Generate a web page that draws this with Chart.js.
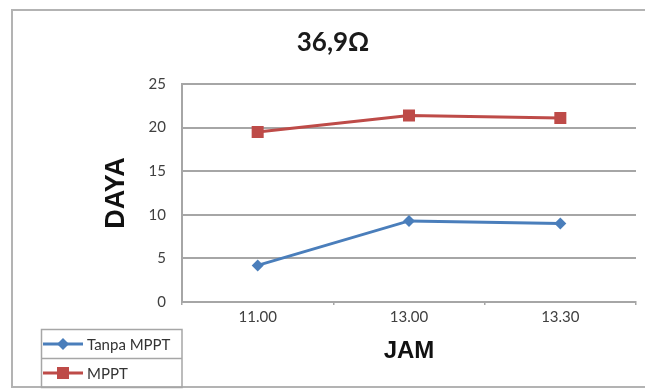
<!DOCTYPE html>
<html>
<head>
<meta charset="utf-8">
<script src="https://cdn.jsdelivr.net/npm/chart.js@4/dist/chart.umd.min.js"></script>
<style>
  html, body { margin: 0; padding: 0; background: #ffffff; overflow: hidden; }
  #wrap { width: 645px; height: 392px; }
</style>
</head>
<body>
<div id="wrap"><canvas id="c" width="645" height="392"></canvas></div>
<script>
// Time of measurement (JAM) and measured power (DAYA)
const jam = ['11.00', '13.00', '13.30'];
const tanpaMppt = [4.2, 9.3, 9.0];
const denganMppt = [19.5, 21.4, 21.1];
const yTicks = [0, 5, 10, 15, 20, 25];

const chartTitle = '36,9\u03A9';
const seriesNames = ['Tanpa MPPT', 'MPPT'];
const seriesColors = ['#4a7ebb', '#be4b48'];
const seriesMarkers = ['rectRot', 'rect'];
const markerRadius = [6, 8.5];

// White page, outer chart frame (open on the right) and the title
const framePlugin = {
  id: 'frame',
  beforeDraw(chart) {
    const ctx = chart.ctx;
    ctx.save();
    ctx.fillStyle = '#ffffff';
    ctx.fillRect(0, 0, chart.width, chart.height);
    ctx.strokeStyle = '#b3b3b3';
    ctx.lineWidth = 2;
    ctx.beginPath();
    ctx.moveTo(12, 10);
    ctx.lineTo(chart.width, 10);
    ctx.moveTo(12, 9);
    ctx.lineTo(12, 388);
    ctx.moveTo(12, 387);
    ctx.lineTo(chart.width, 387);
    ctx.stroke();
    ctx.restore();
  },
  afterDraw(chart) {
    const ctx = chart.ctx;
    ctx.save();
    ctx.fillStyle = '#1a1a1a';
    ctx.font = 'bold 26px Lato, "Open Sans", sans-serif';
    ctx.textAlign = 'center';
    ctx.textBaseline = 'middle';
    ctx.fillText(chartTitle, 333, 43);
    ctx.restore();
  }
};

// Boxed legend in the lower left corner, one row per dataset
const boxLegend = {
  id: 'boxLegend',
  afterDraw(chart) {
    const ctx = chart.ctx;
    const left = 41.5, right = chart.chartArea.left, top = 329.5, rowH = 29;
    const sets = chart.data.datasets;
    ctx.save();
    ctx.strokeStyle = '#a6a6a6';
    ctx.lineWidth = 1.5;
    ctx.beginPath();
    ctx.rect(left, top, right - left, rowH * sets.length);
    for (let i = 1; i < sets.length; i++) {
      ctx.moveTo(left, top + rowH * i);
      ctx.lineTo(right, top + rowH * i);
    }
    ctx.stroke();
    sets.forEach((ds, i) => {
      const cy = top + rowH * i + rowH / 2;
      ctx.strokeStyle = ds.borderColor;
      ctx.lineWidth = 3;
      ctx.beginPath();
      ctx.moveTo(43, cy);
      ctx.lineTo(83, cy);
      ctx.stroke();
      ctx.fillStyle = ds.backgroundColor;
      Chart.helpers.drawPoint(ctx, {
        pointStyle: ds.pointStyle,
        radius: ds.pointRadius,
        borderWidth: 0
      }, 63, cy);
      ctx.fillStyle = '#333333';
      ctx.font = '15px Lato, "Open Sans", sans-serif';
      ctx.textAlign = 'left';
      ctx.textBaseline = 'middle';
      ctx.fillText(ds.label, 87, cy + 1);
    });
    ctx.restore();
  }
};

const datasets = [tanpaMppt, denganMppt].map((vals, i) => ({
  label: seriesNames[i],
  data: vals,
  borderColor: seriesColors[i],
  backgroundColor: seriesColors[i],
  borderWidth: 3,
  pointStyle: seriesMarkers[i],
  pointRadius: markerRadius[i],
  pointHoverRadius: markerRadius[i],
  pointBorderWidth: 0,
  tension: 0
}));

new Chart(document.getElementById('c'), {
  type: 'line',
  data: { labels: jam, datasets },
  options: {
    responsive: false,
    animation: false,
    events: [],
    layout: { padding: { left: 100, top: 84, right: 9, bottom: 26 } },
    plugins: {
      legend: { display: false },
      title: { display: false },
      tooltip: { enabled: false }
    },
    scales: {
      x: {
        offset: true,
        afterFit(scale) { scale.height = 64; },
        grid: {
          offset: true,
          drawOnChartArea: false,
          drawTicks: true,
          tickLength: 3,
          color: '#a6a6a6',
          lineWidth: 1.5
        },
        border: { display: true, color: '#a6a6a6', width: 2 },
        ticks: {
          padding: 3,
          color: '#404040',
          font: { family: 'Lato, "Open Sans", sans-serif', size: 15 }
        },
        title: {
          display: true,
          text: 'JAM',
          color: '#111111',
          padding: { top: 0, bottom: 0 },
          font: { family: '"Liberation Sans", Arial, sans-serif', size: 24, weight: 'bold' }
        }
      },
      y: {
        min: 0,
        max: 25,
        afterFit(scale) { scale.width = 82; },
        afterBuildTicks(scale) { scale.ticks = yTicks.map(v => ({ value: v })); },
        grid: {
          drawTicks: false,
          color: '#a6a6a6',
          lineWidth: 2
        },
        border: { display: true, color: '#a6a6a6', width: 2 },
        ticks: {
          padding: 16,
          color: '#404040',
          font: { family: 'Lato, "Open Sans", sans-serif', size: 15 }
        },
        title: {
          display: true,
          text: 'DAYA',
          color: '#111111',
          padding: { top: 0, bottom: 0 },
          font: { family: '"Liberation Sans", Arial, sans-serif', size: 27, weight: 'bold' }
        }
      }
    }
  },
  plugins: [framePlugin, boxLegend]
});
</script>
</body>
</html>
